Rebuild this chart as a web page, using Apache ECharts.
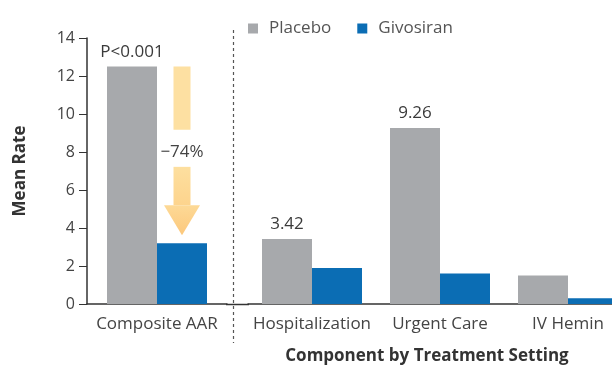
<!DOCTYPE html>
<html>
<head>
<meta charset="utf-8">
<script src="https://cdn.jsdelivr.net/npm/echarts@6/dist/echarts.min.js"></script>
<style>
  html, body { margin: 0; padding: 0; background: #fff; }
  #main { width: 612px; height: 369px; }
</style>
</head>
<body>
<div id="main"></div>
<script>
// 数据
var compositeCats = ['Composite AAR'];
var componentCats = ['Hospitalization', 'Urgent Care', 'IV Hemin'];
var placeboComposite = [12.5];
var givosiranComposite = [3.2];
var placeboComponent = [3.42, 9.26, 1.5];
var givosiranComponent = [1.9, 1.6, 0.3];
var placeboLabels = ['P<0.001', '3.42', '9.26', ''];
var yTicks = [0, 2, 4, 6, 8, 10, 12, 14];
var reductionText = '\u221274%';

(function(){
    var myChart = echarts.init(document.getElementById('main'));
    var font = '"Open Sans", "Liberation Sans", sans-serif';
    var grayC = '#a7a9ac';
    var blueC = '#0b6db4';
    var axisC = '#333';

    var barLabel = function(offset){
        return {
            show: true,
            position: 'top',
            distance: 6,
            fontFamily: font,
            fontSize: 17,
            color: '#3a3a3a',
            formatter: function(p){ return placeboLabels[offset + p.dataIndex]; }
        };
    };

    var option = {
        animation: false,
        textStyle: { fontFamily: font },
        legend: {
            left: 243,
            top: 15,
            itemWidth: 10,
            itemHeight: 10,
            itemGap: 26,
            icon: 'rect',
            data: ['Placebo', 'Givosiran'],
            textStyle: { color: '#555', fontSize: 17, fontFamily: font, padding: [0, 0, 0, 6] }
        },
        grid: [
            { left: 87, top: 38, width: 140, bottom: 65, outerBoundsMode: 'none' },
            { left: 248, top: 38, width: 384, bottom: 65, outerBoundsMode: 'none' }
        ],
        xAxis: [
            {
                type: 'category',
                gridIndex: 0,
                data: compositeCats,
                axisTick: { show: false },
                axisLine: { show: true, onZero: false, lineStyle: { color: axisC, width: 1.5 } },
                axisLabel: { color: '#444', fontSize: 17, margin: 12, interval: 0 }
            },
            {
                type: 'category',
                gridIndex: 1,
                data: componentCats,
                axisTick: { show: false },
                axisLine: { show: true, onZero: false, lineStyle: { color: axisC, width: 1.5 } },
                axisLabel: { color: '#444', fontSize: 17, margin: 12, interval: 0 },
                name: 'Component by Treatment Setting',
                nameLocation: 'middle',
                nameGap: 44,
                nameTextStyle: {
                    color: '#333', fontSize: 17, fontWeight: 'bold',
                    padding: [0, 26, 0, 0]
                }
            }
        ],
        yAxis: [
            {
                type: 'value',
                gridIndex: 0,
                min: yTicks[0],
                max: yTicks[yTicks.length - 1],
                interval: 2,
                splitLine: { show: false },
                axisLine: { show: true, lineStyle: { color: axisC, width: 1.5 } },
                axisTick: { show: true, length: 8, lineStyle: { color: axisC } },
                axisLabel: { color: '#444', fontSize: 16, margin: 12 },
                name: 'Mean Rate',
                nameLocation: 'middle',
                nameGap: 58,
                nameTextStyle: { color: '#333', fontSize: 17, fontWeight: 'bold' }
            },
            {
                type: 'value',
                gridIndex: 1,
                min: yTicks[0],
                max: yTicks[yTicks.length - 1],
                axisLine: { show: false },
                axisTick: { show: false },
                axisLabel: { show: false },
                splitLine: { show: false }
            }
        ],
        series: [
            {
                name: 'Placebo', type: 'bar', xAxisIndex: 0, yAxisIndex: 0,
                barWidth: 50, barGap: '0%',
                itemStyle: { color: grayC },
                label: barLabel(0),
                data: placeboComposite
            },
            {
                name: 'Givosiran', type: 'bar', xAxisIndex: 0, yAxisIndex: 0,
                barWidth: 50, barGap: '0%',
                itemStyle: { color: blueC },
                data: givosiranComposite
            },
            {
                name: 'Placebo', type: 'bar', xAxisIndex: 1, yAxisIndex: 1,
                barWidth: 50, barGap: '0%',
                itemStyle: { color: grayC },
                label: barLabel(1),
                data: placeboComponent
            },
            {
                name: 'Givosiran', type: 'bar', xAxisIndex: 1, yAxisIndex: 1,
                barWidth: 50, barGap: '0%',
                itemStyle: { color: blueC },
                data: givosiranComponent
            }
        ]
    };
    myChart.setOption(option);

    // 分隔虚线、两段坐标轴之间的连接段、下降箭头
    var x0 = myChart.convertToPixel({ xAxisIndex: 0 }, compositeCats[0]);
    var yZero = myChart.convertToPixel({ yAxisIndex: 0 }, 0);
    var yTop = myChart.convertToPixel({ yAxisIndex: 0 }, placeboComposite[0]);
    var yLow = myChart.convertToPixel({ yAxisIndex: 0 }, givosiranComposite[0]);
    var ax = x0 + 25;            // 箭头中心 = 吉沃西兰柱中心
    var shaftW = 17, headW = 36, headH = 30;
    var tipY = yLow - 8;
    var textY = (yTop + yLow) / 2 - 3;
    var arrowFill = new echarts.graphic.LinearGradient(0, 0, 0, 1, [
        { offset: 0, color: '#fdd996' },
        { offset: 1, color: '#fcc87c' }
    ]);
    var shaftFill = new echarts.graphic.LinearGradient(0, 0, 0, 1, [
        { offset: 0, color: '#fddf9f' },
        { offset: 1, color: '#fdd48d' }
    ]);

    myChart.setOption({
        graphic: [
            {
                type: 'rect',
                shape: { x: 226, y: yZero - 0.25, width: 23, height: 1.5 },
                style: { fill: axisC }
            },
            {
                type: 'line',
                shape: { x1: 233.5, y1: 30, x2: 233.5, y2: 343 },
                style: { stroke: '#555', lineWidth: 1.2, lineDash: [3, 3] }
            },
            {
                type: 'rect',
                shape: { x: ax - shaftW / 2, y: yTop, width: shaftW, height: textY - 22 - yTop },
                style: { fill: '#fde0a2' }
            },
            {
                type: 'rect',
                shape: { x: ax - shaftW / 2, y: textY + 15, width: shaftW, height: tipY - headH - textY - 15 },
                style: { fill: shaftFill }
            },
            {
                type: 'polygon',
                shape: { points: [[ax - headW / 2, tipY - headH], [ax + headW / 2, tipY - headH], [ax, tipY]] },
                style: { fill: arrowFill }
            },
            {
                type: 'text',
                x: ax,
                y: textY,
                style: {
                    text: reductionText,
                    fill: '#444',
                    font: '17px ' + font,
                    align: 'center',
                    verticalAlign: 'middle'
                }
            }
        ]
    });

    window.addEventListener('resize', function(){
        myChart.resize();
    });
})();
</script>
</body>
</html>
